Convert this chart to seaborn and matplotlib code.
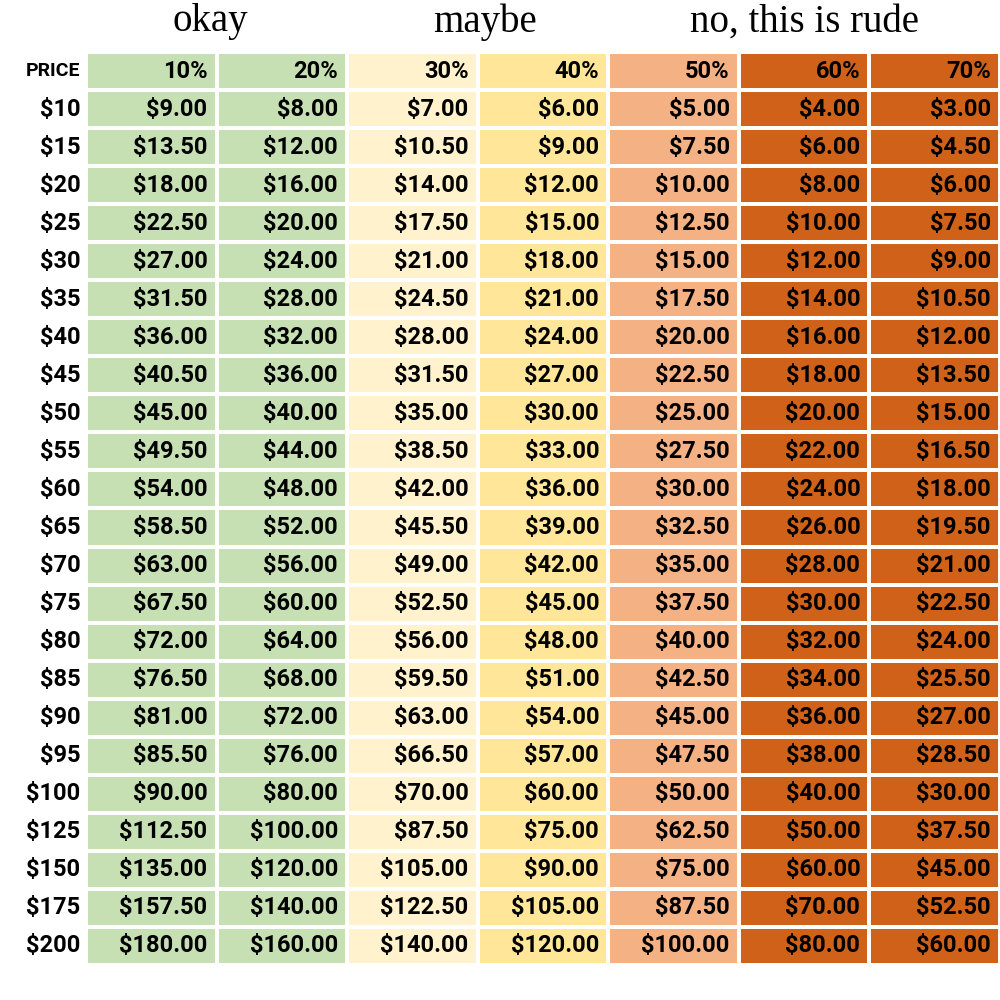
import matplotlib
matplotlib.use("Agg")
import matplotlib.pyplot as plt
import seaborn as sns
import numpy as np
from matplotlib.colors import ListedColormap

prices = [10, 15, 20, 25, 30, 35, 40, 45, 50, 55, 60, 65, 70, 75, 80, 85, 90, 95, 100, 125, 150, 175, 200]
discounts = [10, 20, 30, 40, 50, 60, 70]
col_colors = ["#c6e0b4", "#c6e0b4", "#fff2cc", "#ffe699", "#f4b183", "#cf6218", "#cf6218"]
groups = ["okay", "maybe", "no, this is rude"]
group_centers = [0.21, 0.485, 0.805]

sns.set_theme(style="white")
plt.rcParams['font.family'] = ['Roboto', 'DejaVu Sans']

nrows = len(prices) + 1
data = np.tile(np.arange(len(discounts)), (nrows, 1))
annot = [[f"{d}%" for d in discounts]] + [[f"${p * (100 - d) / 100:,.2f}" for d in discounts] for p in prices]
annot = np.array(annot)

fig = plt.figure(figsize=(10, 10), dpi=100)
ax = fig.add_axes([0.086, 0.035, 0.914, 0.913])
sns.heatmap(data, ax=ax, cmap=ListedColormap(col_colors), cbar=False, annot=annot, fmt="",
            linewidths=1.5, linecolor="white",
            annot_kws={"fontsize": 17, "fontweight": "bold", "color": "black"},
            xticklabels=False, yticklabels=["PRICE"] + [f"${p}" for p in prices])
for t in ax.texts:
    x, y = t.get_position()
    t.set_position((x + 0.43, y))
    t.set_ha("right")
ax.tick_params(axis="y", length=0, pad=4)
for i, lab in enumerate(ax.get_yticklabels()):
    lab.set_rotation(0)
    lab.set_fontweight("bold")
    lab.set_fontsize(17 if i else 14)
    lab.set_color("black")

for g, cx in zip(groups, group_centers):
    fig.text(cx, 0.978, g, ha="center", va="center", fontsize=28,
             family=["Liberation Serif"], color="black")

fig.savefig("out.png", dpi=100, facecolor="white")
